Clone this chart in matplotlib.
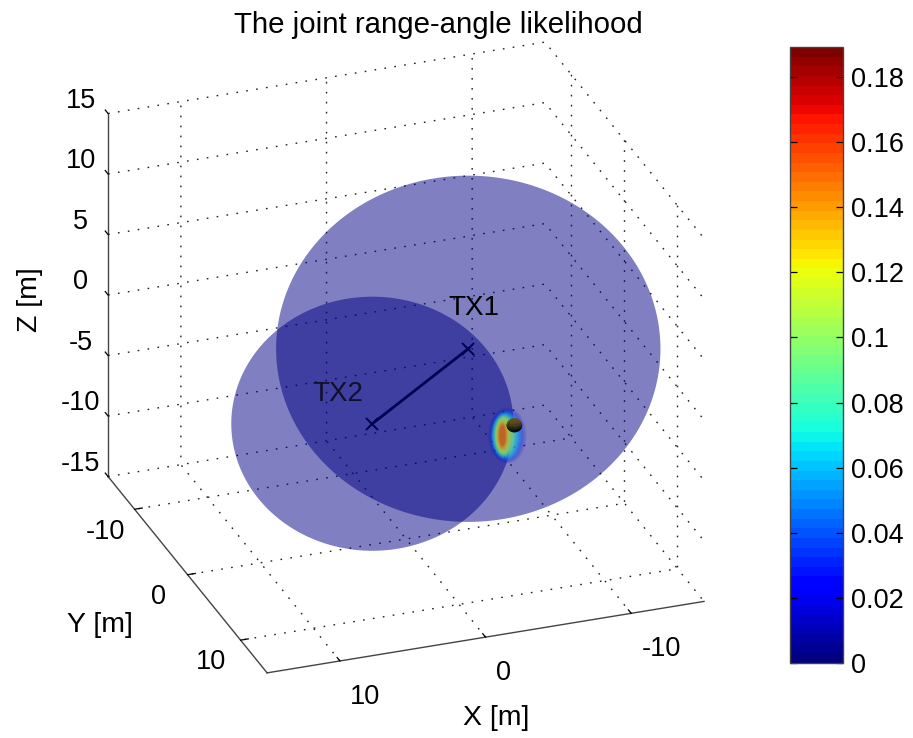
import numpy as np
import matplotlib
matplotlib.use('Agg')
import matplotlib.pyplot as plt
from matplotlib.cm import ScalarMappable
from matplotlib.colors import Normalize
from mpl_toolkits.mplot3d.art3d import Poly3DCollection

plt.rcParams['font.family'] = ['Liberation Sans', 'DejaVu Sans']
plt.rcParams['axes.unicode_minus'] = False
plt.rcParams['grid.color'] = '#222222'
plt.rcParams['grid.linewidth'] = 1.0
plt.rcParams['grid.linestyle'] = (0, (1.2, 6.0))
plt.rcParams['axes.linewidth'] = 1.0

# data
tx1 = [-4.2, 0.2, 0.0]
tx2 = [5.3, 8.2, 0.0]
r1 = 12.4
r2 = 9.1
target = [-3.0, 12.2, 0.4]
blob_center = [-2.07, 12.5, -0.1]

# likelihood rings: level, half width, half height, sideways shift, opacity
blob_levels = [0.01, 0.02, 0.03, 0.04, 0.05, 0.06, 0.07, 0.08, 0.09, 0.10, 0.11, 0.12, 0.13, 0.14, 0.15, 0.16, 0.17, 0.18]
blob_a = [1.25, 1.18, 1.12, 1.07, 1.02, 0.96, 0.90, 0.84, 0.78, 0.71, 0.64, 0.57, 0.50, 0.42, 0.36, 0.31, 0.26, 0.20]
blob_b = [2.00, 1.95, 1.90, 1.85, 1.78, 1.72, 1.66, 1.60, 1.54, 1.48, 1.42, 1.36, 1.28, 1.16, 1.04, 0.94, 0.86, 0.72]
blob_shift = [0.32, 0.30, 0.28, 0.27, 0.26, 0.24, 0.21, 0.18, 0.15, 0.13, 0.11, 0.09, 0.06, 0.03, 0.01, 0.0, 0.0, 0.0]
blob_alpha = [0.07, 0.09, 0.11, 0.13, 0.14, 0.15, 0.15, 0.15, 0.15, 0.16, 0.17, 0.18, 0.18, 0.18, 0.18, 0.18, 0.18, 0.18]

x_ticks = [-10, 0, 10]
y_ticks = [-10, 0, 10]
z_ticks = [-15, -10, -5, 0, 5, 10, 15]
axis_limit = 15
cbar_max = 0.1892
cbar_ticks = [0, 0.02, 0.04, 0.06, 0.08, 0.1, 0.12, 0.14, 0.16, 0.18]
cbar_labels = ['0', '0.02', '0.04', '0.06', '0.08', '0.1', '0.12', '0.14', '0.16', '0.18']

W, H = 913, 738
elev, azim = 26.7, 70.0
z_aspect = 0.874
ball_radius = 0.5
sphere_color = (0, 0, 0.52, 0.5)


def fx(x):
    return x / W


def fy(y):
    return 1 - y / H


fig = plt.figure(figsize=(W / 100, H / 100), dpi=100)
ax = fig.add_axes([20.7 / W, -4.8 / H, 750.4 / W, 750.4 / H], projection='3d',
                  proj_type='ortho', computed_zorder=False)
ax.view_init(elev=elev, azim=azim)
ax.set_box_aspect((1, 1, z_aspect))
ax.patch.set_visible(False)
ax.set_xlim(-axis_limit, axis_limit, view_margin=0)
ax.set_ylim(-axis_limit, axis_limit, view_margin=0)
ax.set_zlim(-axis_limit, axis_limit, view_margin=0)
ax.set_xticks(x_ticks)
ax.set_yticks(y_ticks)
ax.set_zticks(z_ticks)

# z ticks point along y like in the reference
ax.zaxis._get_tickdir = lambda position: 1

for axis in [ax.xaxis, ax.yaxis, ax.zaxis]:
    axis.set_pane_color((1, 1, 1, 0))
    axis.pane.set_edgecolor('none')
    axis.line.set_color('#444444')
    axis.line.set_linewidth(1.0)
    axis.offsetText.set_visible(False)
    axis.label.set_visible(False)
    axis._axinfo['tick']['inward_factor'] = 0.0
    axis._axinfo['tick']['outward_factor'] = 0.22
    axis._axinfo['tick']['linewidth'] = {True: 0.9, False: 0.9}
    axis._axinfo['tick']['color'] = '#444444'

ax.tick_params(axis='x', labelsize=19.5, pad=10)
ax.tick_params(axis='y', labelsize=19.5, pad=11)
ax.tick_params(axis='z', labelsize=19.5, pad=5)
for lab in ax.get_xticklabels():
    lab.set_ha('left')
    lab.set_va('center')
for lab in ax.get_yticklabels():
    lab.set_va('baseline')
for lab in ax.get_zticklabels():
    lab.set_va('baseline')

# directions on the screen, in data units
a = np.radians(azim)
e = np.radians(elev)
view = np.array([np.cos(e) * np.cos(a), np.cos(e) * np.sin(a), np.sin(e) / z_aspect])
view = view / np.linalg.norm(view)
right = np.array([-np.sin(a), np.cos(a), 0.0])
up = np.cross(view, right)
up = up / np.linalg.norm(up)
t = np.linspace(0, 2 * np.pi, 240)


def disc(center, ra, rb, color, zorder):
    verts = np.array(center)[None, :] + np.outer(ra * np.cos(t), right) + np.outer(rb * np.sin(t), up)
    poly = Poly3DCollection([verts], facecolors=[color], edgecolors='none', zorder=zorder)
    ax.add_collection3d(poly)


# the two range spheres, seen from outside they are flat discs
disc(tx1, r1, r1, sphere_color, 2)
disc(tx2, r2, r2, sphere_color, 3)

# likelihood patch
cmap = plt.get_cmap('jet', 64)
norm = Normalize(0, cbar_max)
for i in range(len(blob_levels)):
    c = cmap(norm(blob_levels[i]))
    center = np.array(blob_center) + blob_shift[i] * right
    disc(center, blob_a[i], blob_b[i], (c[0], c[1], c[2], blob_alpha[i]), 4 + i * 0.01)

# baseline
ax.plot([tx1[0], tx2[0]], [tx1[1], tx2[1]], [tx1[2], tx2[2]], color='#000050', lw=2.0,
        marker='x', ms=8, mew=1.4, zorder=6)
ax.text(tx1[0] - 0.4, tx1[1], tx1[2] + 3.3, 'TX1', fontsize=20, ha='center', va='center', zorder=7)
ax.text(tx2[0] + 2.4, tx2[1], tx2[2] + 2.9, 'TX2', fontsize=20, ha='center', va='center', color='#10102a', zorder=7)

# target
u, v = np.meshgrid(np.linspace(0, 2 * np.pi, 40), np.linspace(0, np.pi, 24))
bx = np.cos(u) * np.sin(v)
by = np.sin(u) * np.sin(v)
bz = np.cos(v)
light = np.clip(bz + 0.25, 0, 1)
ball_colors = np.zeros(bx.shape + (4,))
ball_colors[..., 0] = 0.45 * light
ball_colors[..., 1] = 0.33 * light
ball_colors[..., 2] = 0.06 * light
ball_colors[..., 3] = 1.0
ax.plot_surface(target[0] + ball_radius * bx, target[1] + ball_radius * by, target[2] + ball_radius * bz,
                facecolors=ball_colors, shade=False, linewidth=0, antialiased=True, zorder=8)

# texts
fig.text(fx(438), fy(25), 'The joint range-angle likelihood', fontsize=21.2, ha='center', va='center')
fig.text(fx(496), fy(718), 'X [m]', fontsize=20.5, ha='center', va='center')
fig.text(fx(100), fy(625), 'Y [m]', fontsize=20.5, ha='center', va='center')
fig.text(fx(30), fy(300), 'Z [m]', fontsize=20.5, ha='center', va='center', rotation=90)

# colorbar
cax = fig.add_axes([790 / W, (H - 663) / H, 53 / W, 616 / H])
cb = fig.colorbar(ScalarMappable(norm=norm, cmap=cmap), cax=cax)
cb.set_ticks(cbar_ticks)
cb.set_ticklabels(cbar_labels)
cb.ax.tick_params(direction='in', length=5, width=0.9, left=True, right=True, labelsize=19.5, pad=6)
cb.outline.set_edgecolor('#444444')
cb.outline.set_linewidth(1.0)

fig.savefig('out.png', dpi=100)
